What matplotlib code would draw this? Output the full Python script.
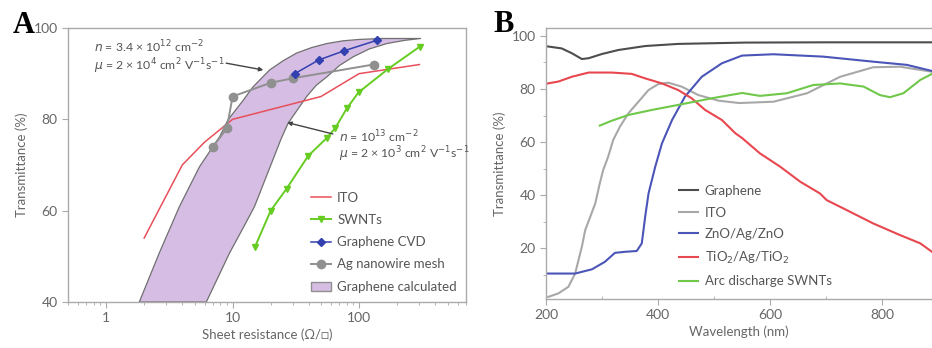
"""transparent conductors: transmittance comparison"""
import numpy as np
import matplotlib
matplotlib.use("Agg")
import matplotlib.pyplot as plt
from matplotlib.patches import Patch
from matplotlib.ticker import MultipleLocator, LogLocator, NullFormatter

plt.rcParams['font.family'] = ['Lato', 'DejaVu Sans']
plt.rcParams['mathtext.fontset'] = 'dejavusans'

# ---- panel A data (sheet resistance vs transmittance)
ito_r = [2, 4, 6, 10, 50, 100, 300]
ito_t = [54, 70, 75, 80, 85, 90, 92]

swnt_r = [15, 20, 26.7, 39.6, 55.4, 64.5, 80, 99, 169, 301]
swnt_t = [52, 60, 64.8, 72, 75.9, 78, 82.4, 85.9, 91, 95.9]

cvd_r = [31, 48, 76, 138]
cvd_t = [90, 93, 95, 97.3]

agnw_r = [7, 9, 10, 20, 30, 130]
agnw_t = [74, 78, 85, 88, 89, 92]

# limits of the calculated graphene band
band_hi_r = [1.83, 2.63, 3.8, 5.47, 7.9, 9.2, 12, 14.5, 19.6, 25, 32, 42,
             55.6, 75, 101, 150, 306]
band_hi_t = [40, 50.7, 60.9, 69.6, 76.2, 79.9, 84, 87.1, 90.8, 92.8, 94.5,
             95.7, 96.6, 97.2, 97.5, 97.7, 97.7]
band_lo_r = [6.2, 9.45, 12, 14.9, 20.8, 24, 27.4, 38.5, 46, 55.6, 70, 90,
             120, 166, 230, 306]
band_lo_t = [40, 50.7, 56, 60.9, 71.1, 75.5, 79.1, 85, 87.5, 89.3, 91.8,
             93.7, 95.4, 96.6, 97.3, 97.7]

# ---- panel B data (wavelength vs transmittance)
gr_wl = [198, 228, 246, 264, 276, 300, 329, 377, 436, 555, 700, 889]
gr_t = [96.2, 95.3, 93.5, 91.3, 91.6, 93.2, 94.7, 96.2, 97, 97.5, 97.6, 97.6]

ito_wl = [204, 222, 240, 252, 264, 270, 279, 288, 296, 302, 311, 320, 332,
          347, 365, 383, 400, 418, 442, 472, 508, 545, 606, 666, 725, 784,
          832, 889]
ito_tb = [1.6, 2.9, 5.4, 10.4, 20.5, 26.8, 31.8, 36.9, 44.4, 49.4, 54.5,
          60.8, 65.8, 70.8, 75.2, 79.6, 81.8, 82.4, 80.9, 77.7, 75.6, 74.7,
          75.2, 78.4, 84.6, 88.2, 88.4, 86.5]

zno_wl = [198, 252, 282, 305, 323, 341, 362, 371, 377, 383, 395, 407, 425,
          448, 478, 514, 550, 606, 695, 784, 844, 889]
zno_t = [10.4, 10.4, 12, 14.8, 18.2, 18.6, 18.9, 21.8, 31.8, 40.6, 50.7,
         59.5, 68.3, 77.1, 84.6, 89.7, 92.6, 93.1, 92.2, 90.3, 89.1, 86.8]

tio_wl = [198, 222, 246, 276, 317, 353, 377, 407, 436, 460, 484, 514, 538,
          550, 582, 618, 654, 689, 701, 737, 784, 832, 868, 889]
tio_t = [81.9, 82.8, 84.6, 86.2, 86.2, 85.7, 84, 82.1, 79.6, 76.5, 72.1,
         68.3, 63.3, 61.5, 55.7, 50.7, 45, 40.6, 38.1, 34.3, 29.3, 24.9,
         21.8, 18.6]

arc_wl = [296, 317, 347, 389, 436, 496, 550, 582, 630, 677, 725, 767, 796,
          814, 838, 868, 889]
arc_t = [66.2, 68, 70.2, 72.1, 74, 76.5, 78.5, 77.4, 78.4, 81.5, 82.1, 80.9,
         77.7, 76.9, 78.4, 83.4, 85.7]

W, H = 932, 348
fig = plt.figure(figsize=(W / 100, H / 100), dpi=100)

def box(l, t, r, b):
    return [l / W, 1 - b / H, (r - l) / W, (b - t) / H]

gray = '#666666'
frame = '#aaaaaa'

def style(ax):
    for s in ax.spines.values():
        s.set_color(frame)
        s.set_linewidth(1.0)
    ax.tick_params(colors=frame, labelcolor=gray, labelsize=10, length=4)
    ax.tick_params(which='minor', colors=frame, length=2.5)

# ================= panel A
axA = fig.add_axes(box(68, 28, 466, 302))
style(axA)
axA.set_xscale('log')
axA.set_xlim(0.5, 700)
axA.set_ylim(40, 100)
axA.set_yticks([40, 60, 80, 100])
axA.xaxis.set_minor_locator(LogLocator(subs=np.arange(2, 10)))
axA.xaxis.set_minor_formatter(NullFormatter())
axA.set_xticks([1, 10, 100])
axA.set_xticklabels(['1', '10', '100'])

# band: closed polygon from the two limits
poly_x = list(band_hi_r) + list(band_lo_r[::-1])
poly_y = list(band_hi_t) + list(band_lo_t[::-1])
axA.fill(poly_x, poly_y, facecolor='#d6bde3', edgecolor='#707070', lw=0.9,
         joinstyle='round', zorder=1)

axA.plot(ito_r, ito_t, color='#e8505b', lw=1.1, zorder=3)
axA.plot(swnt_r, swnt_t, color='#66cc22', lw=1.4, marker='v', ms=5, zorder=3)
axA.plot(agnw_r, agnw_t, color='#909090', lw=1.4, marker='o', ms=6, zorder=4)
axA.plot(cvd_r, cvd_t, color='#3340b0', lw=1.1, marker='D', ms=4, zorder=5)

axA.set_xlabel('Sheet resistance (Ω/□)', color=gray, fontsize=9.5, labelpad=3)
axA.set_ylabel('Transmittance (%)', color=gray, fontsize=9.5, labelpad=4)

afs = 8.8
axA.text(0.066, 0.93, r'$n$ = 3.4 × 10$^{12}$ cm$^{-2}$', transform=axA.transAxes,
         color='#555555', fontsize=afs, va='center')
axA.text(0.066, 0.86, r'$\mu$ = 2 × 10$^{4}$ cm$^{2}$ V$^{-1}$s$^{-1}$',
         transform=axA.transAxes, color='#555555', fontsize=afs, va='center')
axA.annotate('', xy=(17.5, 90.8), xytext=(8.9, 92.3),
             arrowprops=dict(arrowstyle='-|>', color='#444444', lw=1.0,
                             mutation_scale=6, shrinkA=0, shrinkB=0))
axA.text(0.68, 0.605, r'$n$ = 10$^{13}$ cm$^{-2}$', transform=axA.transAxes,
         color='#555555', fontsize=afs, va='center')
axA.text(0.68, 0.54, r'$\mu$ = 2 × 10$^{3}$ cm$^{2}$ V$^{-1}$s$^{-1}$',
         transform=axA.transAxes, color='#555555', fontsize=afs, va='center')
axA.annotate('', xy=(27, 79.3), xytext=(62, 76.8),
             arrowprops=dict(arrowstyle='-|>', color='#444444', lw=1.0,
                             mutation_scale=6, shrinkA=0, shrinkB=0))

hA = [plt.Line2D([], [], color='#e8505b', lw=1.1),
      plt.Line2D([], [], color='#66cc22', lw=1.4, marker='v', ms=5),
      plt.Line2D([], [], color='#3340b0', lw=1.1, marker='D', ms=4),
      plt.Line2D([], [], color='#909090', lw=1.4, marker='o', ms=6),
      Patch(facecolor='#d6bde3', edgecolor='#909090')]
lA = axA.legend(hA, ['ITO', 'SWNTs', 'Graphene CVD', 'Ag nanowire mesh',
                     'Graphene calculated'],
                loc='lower right', bbox_to_anchor=(1.0, 0.0), frameon=False,
                fontsize=9.5, handlelength=1.5, handletextpad=0.5,
                labelspacing=0.78, borderaxespad=0.3)
for t in lA.get_texts():
    t.set_color('#555555')

# ================= panel B
axB = fig.add_axes(box(546, 28, 932, 299))
style(axB)
axB.spines['right'].set_visible(False)
axB.set_xlim(200, 889)
axB.set_ylim(0.8, 103)
axB.set_yticks([20, 40, 60, 80, 100])
axB.yaxis.set_minor_locator(MultipleLocator(10))
axB.set_xticks([200, 400, 600, 800])
axB.xaxis.set_minor_locator(MultipleLocator(100))
axB.tick_params(axis='x', which='minor', direction='in')

kw = dict(lw=1.5, solid_joinstyle='round')
axB.plot(gr_wl, gr_t, color='#4d4d4d', label='Graphene', **kw)
axB.plot(ito_wl, ito_tb, color='#a8a8a8', label='ITO', **kw)
axB.plot(zno_wl, zno_t, color='#4b55b8', label='ZnO/Ag/ZnO', **kw)
axB.plot(tio_wl, tio_t, color='#e8474f', label='TiO$_2$/Ag/TiO$_2$', **kw)
axB.plot(arc_wl, arc_t, color='#70c84a', label='Arc discharge SWNTs', **kw)

axB.set_xlabel('Wavelength (nm)', color=gray, fontsize=9.5, labelpad=3)
axB.set_ylabel('Transmittance (%)', color=gray, fontsize=9.5, labelpad=4)

lB = axB.legend(loc='lower left', bbox_to_anchor=(0.315, 0.0), frameon=False,
                fontsize=9.5, handlelength=1.4, handletextpad=0.5,
                labelspacing=0.72)
for t in lB.get_texts():
    t.set_color('#555555')

# panel letters
fig.text(13 / W, 1 - 33 / H, 'A', family='Liberation Serif', weight='bold',
         fontsize=22, va='baseline')
fig.text(493 / W, 1 - 32 / H, 'B', family='Liberation Serif', weight='bold',
         fontsize=22, va='baseline')

fig.savefig('out.png', dpi=100)
